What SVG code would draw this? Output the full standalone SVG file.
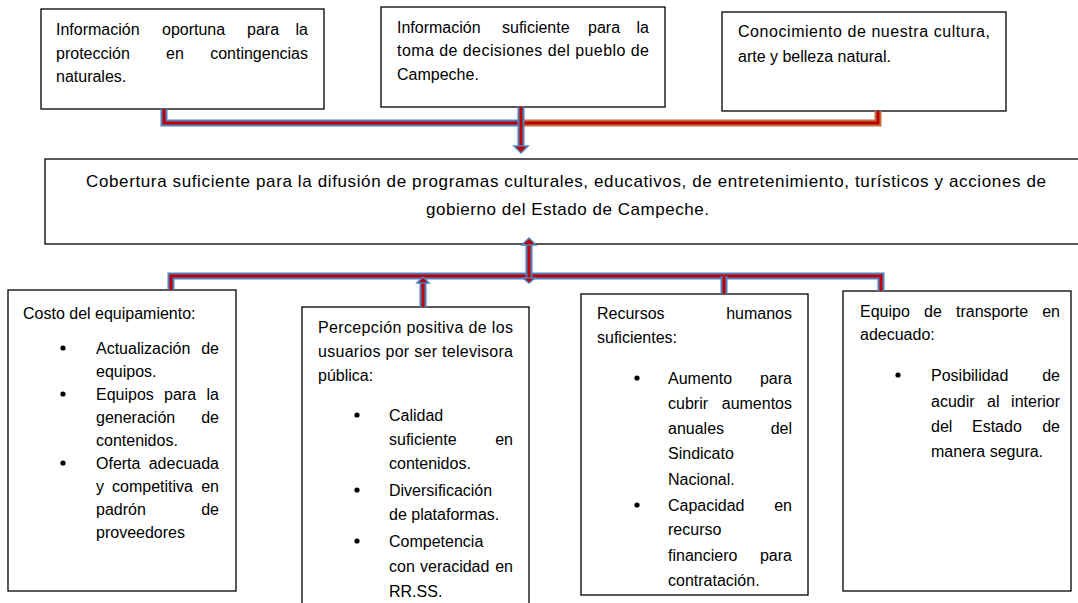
<svg xmlns="http://www.w3.org/2000/svg" width="1078" height="603" viewBox="0 0 1078 603">
<style>
text{font-family:"Liberation Sans",Arial,sans-serif;font-size:16px;fill:#000}
.e{text-anchor:end}
.mid{font-size:17px}
.box{fill:#fff;stroke:#000;stroke-width:1.3}
.ob{fill:none;stroke:#4f81bd;stroke-width:7}
.oo{fill:none;stroke:#c0703a;stroke-width:7}
.in{fill:none;stroke:#c00000;stroke-width:3}
.ah{fill:#c00000;stroke:#4f81bd;stroke-width:1.5}
.bul{fill:#000}
</style>
<rect width="1078" height="603" fill="#fff"/>
<g id="n1">
<rect class="box" x="41" y="9" width="283" height="100"/>
<text x="56" y="35">Información</text><text x="162" y="35">oportuna</text><text x="247" y="35">para</text><text x="308" y="35" class="e">la</text>
<text x="56" y="59">protección</text><text x="166" y="59">en</text><text x="308" y="59" class="e">contingencias</text>
<text x="56" y="82">naturales.</text>
</g>
<g id="n2">
<rect class="box" x="381" y="7" width="284" height="100"/>
<text x="397" y="33">Información</text><text x="502" y="33">suficiente</text><text x="588" y="33">para</text><text x="649" y="33" class="e">la</text>
<text x="397" y="56" textLength="252" lengthAdjust="spacing">toma de decisiones del pueblo de</text>
<text x="397" y="80">Campeche.</text>
</g>
<g id="n3">
<rect class="box" x="722" y="12" width="284" height="99"/>
<text x="738" y="37" textLength="252" lengthAdjust="spacing">Conocimiento de nuestra cultura,</text>
<text x="738" y="62">arte y belleza natural.</text>
</g>
<g id="n4">
<rect class="box" x="45" y="159" width="1045" height="85"/>
<text class="mid" x="86" y="187" textLength="960" lengthAdjust="spacing">Cobertura suficiente para la difusión de programas culturales, educativos, de entretenimiento, turísticos y acciones de</text>
<text class="mid" x="426" y="215" textLength="283" lengthAdjust="spacing">gobierno del Estado de Campeche.</text>
</g>
<g id="n5">
<rect class="box" x="8" y="290" width="228" height="301"/>
<text x="23" y="319">Costo del equipamiento:</text>
<circle class="bul" cx="63" cy="348" r="2.6"/>
<text x="96" y="354">Actualización</text><text x="219" y="354" class="e">de</text>
<text x="96" y="377">equipos.</text>
<circle class="bul" cx="63" cy="394" r="2.6"/>
<text x="96" y="400">Equipos</text><text x="164" y="400">para</text><text x="219" y="400" class="e">la</text>
<text x="96" y="423">generación</text><text x="219" y="423" class="e">de</text>
<text x="96" y="446">contenidos.</text>
<circle class="bul" cx="63" cy="463" r="2.6"/>
<text x="96" y="469">Oferta</text><text x="219" y="469" class="e">adecuada</text>
<text x="96" y="492">y</text><text x="112" y="492">competitiva</text><text x="219" y="492" class="e">en</text>
<text x="96" y="515">padrón</text><text x="219" y="515" class="e">de</text>
<text x="96" y="538">proveedores</text>
</g>
<g id="n6">
<rect class="box" x="302" y="307" width="227" height="310"/>
<text x="318" y="333" textLength="195" lengthAdjust="spacing">Percepción positiva de los</text>
<text x="318" y="357" textLength="195" lengthAdjust="spacing">usuarios por ser televisora</text>
<text x="318" y="381">pública:</text>
<circle class="bul" cx="357" cy="415" r="2.6"/>
<text x="389" y="421">Calidad</text>
<text x="389" y="445">suficiente</text><text x="513" y="445" class="e">en</text>
<text x="389" y="469">contenidos.</text>
<circle class="bul" cx="357" cy="490" r="2.6"/>
<text x="389" y="496">Diversificación</text>
<text x="389" y="520">de plataformas.</text>
<circle class="bul" cx="357" cy="541" r="2.6"/>
<text x="389" y="547">Competencia</text>
<text x="389" y="572">con</text><text x="420" y="572">veracidad</text><text x="513" y="572" class="e">en</text>
<text x="389" y="597">RR.SS.</text>
</g>
<g id="n7">
<rect class="box" x="581" y="294" width="227" height="301"/>
<text x="597" y="319">Recursos</text><text x="792" y="319" class="e">humanos</text>
<text x="597" y="343">suficientes:</text>
<circle class="bul" cx="637" cy="378" r="2.6"/>
<text x="668" y="384">Aumento</text><text x="792" y="384" class="e">para</text>
<text x="668" y="409">cubrir</text><text x="792" y="409" class="e">aumentos</text>
<text x="668" y="434">anuales</text><text x="792" y="434" class="e">del</text>
<text x="668" y="459">Sindicato</text>
<text x="668" y="485">Nacional.</text>
<circle class="bul" cx="637" cy="505" r="2.6"/>
<text x="668" y="511">Capacidad</text><text x="792" y="511" class="e">en</text>
<text x="668" y="535">recurso</text>
<text x="668" y="561">financiero</text><text x="792" y="561" class="e">para</text>
<text x="668" y="586">contratación.</text>
</g>
<g id="n8">
<rect class="box" x="843" y="291" width="228" height="300"/>
<text x="860" y="317">Equipo</text><text x="924" y="317">de</text><text x="956" y="317">transporte</text><text x="1060" y="317" class="e">en</text>
<text x="860" y="340">adecuado:</text>
<circle class="bul" cx="898" cy="375" r="2.6"/>
<text x="931" y="381">Posibilidad</text><text x="1060" y="381" class="e">de</text>
<text x="931" y="407">acudir</text><text x="987" y="407">al</text><text x="1060" y="407" class="e">interior</text>
<text x="931" y="432">del</text><text x="972" y="432">Estado</text><text x="1060" y="432" class="e">de</text>
<text x="931" y="457">manera segura.</text>
</g>
<g id="connectors">
<path class="ob" d="M164,109 V123 H521"/>
<path class="in" d="M164,109 V123 H521"/>
<path class="oo" d="M878,111 V123 H521"/>
<path class="in" d="M878,111 V123 H521"/>
<path class="ob" d="M521,107 V146"/>
<path class="in" d="M521,107 V147"/>
<polygon class="ah" points="514,146 528,146 521,153"/>
<path class="ob" d="M171,290 V276 H881 V291"/>
<path class="in" d="M171,290 V276 H881 V291"/>
<path class="ob" d="M724,276 V294"/>
<path class="in" d="M724,276 V294"/>
<path class="ob" d="M423,307 V283"/>
<path class="in" d="M423,307 V283"/>
<polygon class="ah" points="417,283 429,283 423,277"/>
<path class="ob" d="M529,277 V245"/>
<path class="in" d="M529,278 V244"/>
<polygon class="ah" points="522,245 536,245 529,238"/>
<polygon class="ah" points="523,278 535,278 529,283"/>
</g>
</svg>
